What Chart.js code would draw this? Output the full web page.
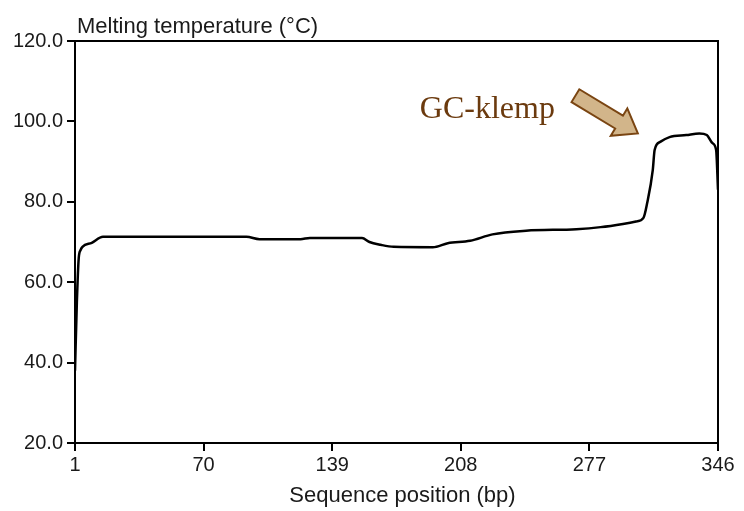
<!DOCTYPE html>
<html>
<head>
<meta charset="utf-8">
<script src="https://cdn.jsdelivr.net/npm/chart.js@4.4.1/dist/chart.umd.min.js"></script>
<style>
  html, body { margin: 0; padding: 0; background: #fff; }
  #wrap { width: 744px; height: 511px; }
</style>
</head>
<body>
<div id="wrap"><canvas id="chart" width="744" height="511"></canvas></div>
<script>
// sequence position (bp) and melting temperature (°C)
const positions = [1, 2, 3, 4, 5, 10, 16, 93, 100, 122, 127, 155, 159, 165, 172, 193, 201, 213, 225, 243, 270, 283, 295, 302, 306, 308, 311, 312, 315, 320, 329, 336, 340, 343, 345, 346];
const meltTemps = [38, 55, 66, 68, 68.8, 69.8, 71.3, 71.3, 70.7, 70.7, 71.0, 71.0, 70.0, 69.3, 68.8, 68.7, 69.7, 70.3, 71.9, 72.8, 73.2, 73.7, 74.5, 75.1, 76.0, 79.7, 87.9, 92.9, 94.9, 96.1, 96.6, 97.0, 96.6, 94.6, 92.9, 83];
const xTicks = [1, 70, 139, 208, 277, 346];
const yTicks = [20, 40, 60, 80, 100, 120];

const points = positions.map((p, i) => ({ x: p, y: meltTemps[i] }));
const sans = '"Liberation Sans", Arial, sans-serif';

const frame = {
  id: 'frame',
  afterDraw(chart) {
    const { ctx, chartArea: a, scales } = chart;
    ctx.save();
    ctx.strokeStyle = '#000';
    ctx.lineWidth = 2;
    ctx.strokeRect(a.left, a.top, a.right - a.left, a.bottom - a.top);

    // axis titles
    ctx.fillStyle = '#1a1a1a';
    ctx.font = '22px ' + sans;
    ctx.textAlign = 'left';
    ctx.textBaseline = 'alphabetic';
    ctx.fillText('Melting temperature (°C)', a.left + 2, a.top - 8);
    ctx.textAlign = 'center';
    ctx.fillText('Sequence position (bp)', (a.left + a.right) / 2 + 6, a.bottom + 59);

    // annotation
    const x = scales.x, y = scales.y;
    ctx.textAlign = 'left';
    ctx.fillStyle = '#6b3a0e';
    ctx.font = '32px "Liberation Serif", "Times New Roman", serif';
    ctx.fillText('GC-klemp', x.getPixelForValue(186), y.getPixelForValue(100.9));

    const tx = x.getPixelForValue(269.5), ty = y.getPixelForValue(106.4);
    const hx = x.getPixelForValue(303), hy = y.getPixelForValue(97.0);
    const ang = Math.atan2(hy - ty, hx - tx);
    const len = Math.hypot(hx - tx, hy - ty);
    const sw = 7.5, hw = 16, hl = 22;
    ctx.translate(tx, ty);
    ctx.rotate(ang);
    ctx.beginPath();
    ctx.moveTo(0, -sw);
    ctx.lineTo(len - hl, -sw);
    ctx.lineTo(len - hl, -hw);
    ctx.lineTo(len, 0);
    ctx.lineTo(len - hl, hw);
    ctx.lineTo(len - hl, sw);
    ctx.lineTo(0, sw);
    ctx.closePath();
    ctx.fillStyle = '#d2b58a';
    ctx.fill();
    ctx.strokeStyle = '#7a4512';
    ctx.lineWidth = 2;
    ctx.stroke();
    ctx.restore();
  }
};

new Chart(document.getElementById('chart'), {
  type: 'line',
  data: {
    datasets: [{
      data: points,
      borderColor: '#000',
      borderWidth: 2.5,
      pointRadius: 0,
      cubicInterpolationMode: 'monotone',
      fill: false
    }]
  },
  options: {
    responsive: false,
    animation: false,
    layout: { padding: { top: 41, right: 26, left: 0, bottom: 0 } },
    plugins: { legend: { display: false }, tooltip: { enabled: false } },
    scales: {
      x: {
        type: 'linear',
        min: 1,
        max: 346,
        afterBuildTicks(scale) { scale.ticks = xTicks.map(v => ({ value: v })); },
        afterFit(scale) { scale.height = 68; },
        grid: { drawOnChartArea: false, drawTicks: true, tickLength: 8, color: '#000', lineWidth: 2 },
        border: { display: true, color: '#000', width: 2 },
        ticks: {
          color: '#1a1a1a',
          padding: 2,
          maxRotation: 0,
          font: { family: sans, size: 20 },
          callback: v => String(v)
        }
      },
      y: {
        min: 20,
        max: 120,
        afterBuildTicks(scale) { scale.ticks = yTicks.map(v => ({ value: v })); },
        afterFit(scale) { scale.width = 75; },
        grid: { drawOnChartArea: false, drawTicks: true, tickLength: 8, color: '#000', lineWidth: 2 },
        border: { display: true, color: '#000', width: 2 },
        ticks: {
          color: '#1a1a1a',
          padding: 4,
          font: { family: sans, size: 20 },
          callback: v => v.toFixed(1)
        }
      }
    }
  },
  plugins: [frame]
});
</script>
</body>
</html>
